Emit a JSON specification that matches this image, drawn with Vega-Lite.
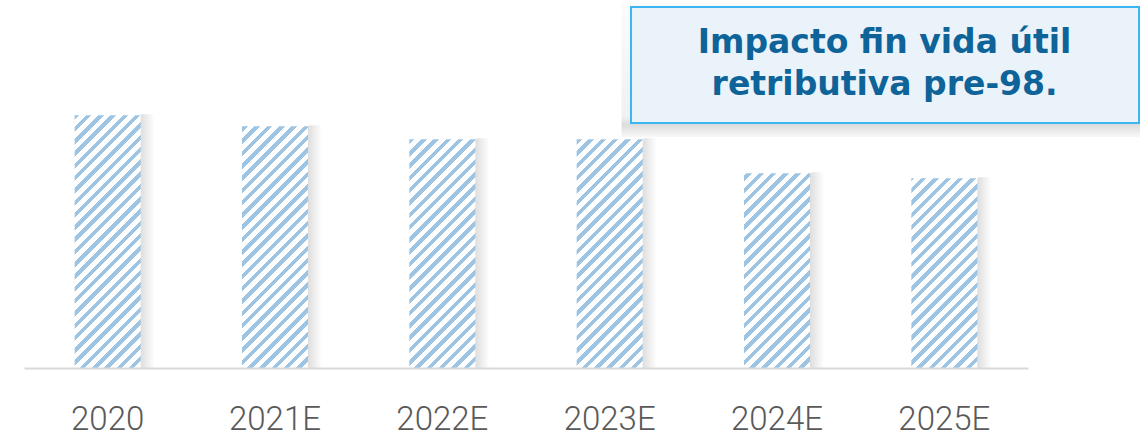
{
  "$schema": "https://vega.github.io/schema/vega-lite/v6.json",
  "width": 1004,
  "height": 368,
  "autosize": {"type": "none"},
  "padding": {"left": 24, "top": 0, "right": 112, "bottom": 68},
  "background": "#ffffff",
  "config": {"view": {"stroke": null}},
  "datasets": {
    "bars": [
      {"year": "2020", "value": 253.7},
      {"year": "2021E", "value": 242.7},
      {"year": "2022E", "value": 229.7},
      {"year": "2023E", "value": 229.7},
      {"year": "2024E", "value": 195.7},
      {"year": "2025E", "value": 190.7}
    ],
    "note": [
      {"label": ["Impacto fin vida útil", "retributiva pre-98."]}
    ]
  },
  "encoding": {
    "x": {"field": "year", "type": "nominal", "sort": null,
      "scale": {"paddingInner": 0.6056, "paddingOuter": 0.3028},
      "axis": {"title": null, "ticks": false, "domainColor": "#d9d9d9", "domainWidth": 2,
        "labelAngle": 0, "labelFont": "Roboto", "labelFontSize": 33, "labelFontWeight": 300,
        "labelColor": "#595959", "labelPadding": 61, "labelBaseline": "alphabetic", "zindex": 1}}
  },
  "layer": [
    {
      "data": {"name": "bars"},
      "mark": {"type": "bar", "xOffset": 14,
        "fill": {"gradient": "linear", "x1": 0, "y1": 0, "x2": 1, "y2": 0,
          "stops": [
            {"offset": 0, "color": "#dedede"},
            {"offset": 0.79, "color": "#dedede"},
            {"offset": 1, "color": "#ffffff"}
          ]}},
      "encoding": {
        "y": {"field": "value", "type": "quantitative", "scale": {"domain": [0, 368], "nice": false}, "axis": null}
      }
    },
    {
      "data": {"name": "bars"},
      "transform": [{"joinaggregate": [{"op": "max", "field": "value", "as": "top"}]}],
      "mark": {"type": "bar",
        "fill": {"gradient": "linear", "x1": 0, "y1": 0, "x2": 0.307, "y2": 1.1803,
          "stops": [
            {"offset": 0, "color": "#9dc4e2"}, {"offset": 0.01731, "color": "#9dc4e2"}, {"offset": 0.01731, "color": "#ffffff"}, {"offset": 0.03846, "color": "#ffffff"},
            {"offset": 0.03846, "color": "#9dc4e2"}, {"offset": 0.05577, "color": "#9dc4e2"}, {"offset": 0.05577, "color": "#ffffff"}, {"offset": 0.07692, "color": "#ffffff"},
            {"offset": 0.07692, "color": "#9dc4e2"}, {"offset": 0.09423, "color": "#9dc4e2"}, {"offset": 0.09423, "color": "#ffffff"}, {"offset": 0.11538, "color": "#ffffff"},
            {"offset": 0.11538, "color": "#9dc4e2"}, {"offset": 0.13269, "color": "#9dc4e2"}, {"offset": 0.13269, "color": "#ffffff"}, {"offset": 0.15385, "color": "#ffffff"},
            {"offset": 0.15385, "color": "#9dc4e2"}, {"offset": 0.17115, "color": "#9dc4e2"}, {"offset": 0.17115, "color": "#ffffff"}, {"offset": 0.19231, "color": "#ffffff"},
            {"offset": 0.19231, "color": "#9dc4e2"}, {"offset": 0.20962, "color": "#9dc4e2"}, {"offset": 0.20962, "color": "#ffffff"}, {"offset": 0.23077, "color": "#ffffff"},
            {"offset": 0.23077, "color": "#9dc4e2"}, {"offset": 0.24808, "color": "#9dc4e2"}, {"offset": 0.24808, "color": "#ffffff"}, {"offset": 0.26923, "color": "#ffffff"},
            {"offset": 0.26923, "color": "#9dc4e2"}, {"offset": 0.28654, "color": "#9dc4e2"}, {"offset": 0.28654, "color": "#ffffff"}, {"offset": 0.30769, "color": "#ffffff"},
            {"offset": 0.30769, "color": "#9dc4e2"}, {"offset": 0.325, "color": "#9dc4e2"}, {"offset": 0.325, "color": "#ffffff"}, {"offset": 0.34615, "color": "#ffffff"},
            {"offset": 0.34615, "color": "#9dc4e2"}, {"offset": 0.36346, "color": "#9dc4e2"}, {"offset": 0.36346, "color": "#ffffff"}, {"offset": 0.38462, "color": "#ffffff"},
            {"offset": 0.38462, "color": "#9dc4e2"}, {"offset": 0.40192, "color": "#9dc4e2"}, {"offset": 0.40192, "color": "#ffffff"}, {"offset": 0.42308, "color": "#ffffff"},
            {"offset": 0.42308, "color": "#9dc4e2"}, {"offset": 0.44038, "color": "#9dc4e2"}, {"offset": 0.44038, "color": "#ffffff"}, {"offset": 0.46154, "color": "#ffffff"},
            {"offset": 0.46154, "color": "#9dc4e2"}, {"offset": 0.47885, "color": "#9dc4e2"}, {"offset": 0.47885, "color": "#ffffff"}, {"offset": 0.5, "color": "#ffffff"},
            {"offset": 0.5, "color": "#9dc4e2"}, {"offset": 0.51731, "color": "#9dc4e2"}, {"offset": 0.51731, "color": "#ffffff"}, {"offset": 0.53846, "color": "#ffffff"},
            {"offset": 0.53846, "color": "#9dc4e2"}, {"offset": 0.55577, "color": "#9dc4e2"}, {"offset": 0.55577, "color": "#ffffff"}, {"offset": 0.57692, "color": "#ffffff"},
            {"offset": 0.57692, "color": "#9dc4e2"}, {"offset": 0.59423, "color": "#9dc4e2"}, {"offset": 0.59423, "color": "#ffffff"}, {"offset": 0.61538, "color": "#ffffff"},
            {"offset": 0.61538, "color": "#9dc4e2"}, {"offset": 0.63269, "color": "#9dc4e2"}, {"offset": 0.63269, "color": "#ffffff"}, {"offset": 0.65385, "color": "#ffffff"},
            {"offset": 0.65385, "color": "#9dc4e2"}, {"offset": 0.67115, "color": "#9dc4e2"}, {"offset": 0.67115, "color": "#ffffff"}, {"offset": 0.69231, "color": "#ffffff"},
            {"offset": 0.69231, "color": "#9dc4e2"}, {"offset": 0.70962, "color": "#9dc4e2"}, {"offset": 0.70962, "color": "#ffffff"}, {"offset": 0.73077, "color": "#ffffff"},
            {"offset": 0.73077, "color": "#9dc4e2"}, {"offset": 0.74808, "color": "#9dc4e2"}, {"offset": 0.74808, "color": "#ffffff"}, {"offset": 0.76923, "color": "#ffffff"},
            {"offset": 0.76923, "color": "#9dc4e2"}, {"offset": 0.78654, "color": "#9dc4e2"}, {"offset": 0.78654, "color": "#ffffff"}, {"offset": 0.80769, "color": "#ffffff"},
            {"offset": 0.80769, "color": "#9dc4e2"}, {"offset": 0.825, "color": "#9dc4e2"}, {"offset": 0.825, "color": "#ffffff"}, {"offset": 0.84615, "color": "#ffffff"},
            {"offset": 0.84615, "color": "#9dc4e2"}, {"offset": 0.86346, "color": "#9dc4e2"}, {"offset": 0.86346, "color": "#ffffff"}, {"offset": 0.88462, "color": "#ffffff"},
            {"offset": 0.88462, "color": "#9dc4e2"}, {"offset": 0.90192, "color": "#9dc4e2"}, {"offset": 0.90192, "color": "#ffffff"}, {"offset": 0.92308, "color": "#ffffff"},
            {"offset": 0.92308, "color": "#9dc4e2"}, {"offset": 0.94038, "color": "#9dc4e2"}, {"offset": 0.94038, "color": "#ffffff"}, {"offset": 0.96154, "color": "#ffffff"},
            {"offset": 0.96154, "color": "#9dc4e2"}, {"offset": 0.97885, "color": "#9dc4e2"}, {"offset": 0.97885, "color": "#ffffff"}, {"offset": 1, "color": "#ffffff"}
          ]}},
      "encoding": {
        "y": {"field": "top", "type": "quantitative"}
      }
    },
    {
      "data": {"name": "bars"},
      "transform": [{"joinaggregate": [{"op": "max", "field": "value", "as": "top"}]}],
      "mark": {"type": "bar", "fill": "#ffffff", "stroke": "#ffffff", "strokeWidth": 2},
      "encoding": {
        "y": {"field": "top", "type": "quantitative"},
        "y2": {"field": "value"}
      }
    },
    {
      "data": {"name": "note"},
      "mark": {"type": "rect",
        "fill": {"gradient": "linear", "x1": 0, "y1": 0, "x2": 0, "y2": 1,
          "stops": [
            {"offset": 0, "color": "#fbfbfb"},
            {"offset": 0.85, "color": "#f1f1f1"},
            {"offset": 0.91, "color": "#dcdcdc"},
            {"offset": 1, "color": "#f8f8f8"}
          ]}},
      "encoding": {
        "x": {"datum": "2023E", "bandPosition": 0.68},
        "x2": {"datum": "2025E", "bandPosition": 3.465},
        "y": {"datum": 366, "type": "quantitative"},
        "y2": {"datum": 231}
      }
    },
    {
      "data": {"name": "note"},
      "mark": {"type": "rect", "fill": "#eaf2fa", "stroke": "#3cb6f2", "strokeWidth": 2},
      "encoding": {
        "x": {"datum": "2023E", "bandPosition": 0.823},
        "x2": {"datum": "2025E", "bandPosition": 3.45},
        "y": {"datum": 361, "type": "quantitative"},
        "y2": {"datum": 245}
      }
    },
    {
      "data": {"name": "note"},
      "mark": {"type": "text", "align": "center", "baseline": "alphabetic", "lineHeight": 42,
        "font": "DejaVu Sans", "fontSize": 33, "fontWeight": "bold", "fill": "#0e6399"},
      "encoding": {
        "x": {"datum": "2024E", "bandPosition": 2.13},
        "y": {"datum": 315, "type": "quantitative"},
        "text": {"field": "label"}
      }
    }
  ]
}
